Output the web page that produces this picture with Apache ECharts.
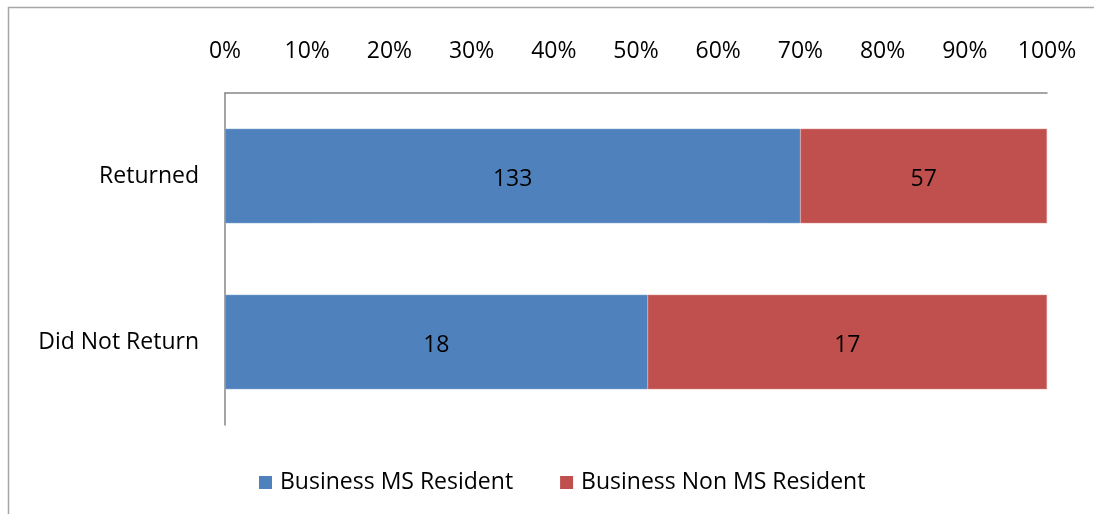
<!DOCTYPE html>
<html>
<head>
<meta charset="utf-8">
<script src="https://cdn.jsdelivr.net/npm/echarts@6/dist/echarts.min.js"></script>
<style>
  html, body { margin: 0; padding: 0; background: #fff; }
  #main { width: 1094px; height: 514px; }
</style>
</head>
<body>
<div id="main"></div>
<script>
// 数据
var categories = ['Returned', 'Did Not Return'];
var msResident = [133, 18];
var nonMsResident = [57, 17];
var seriesNames = ['Business MS Resident', 'Business Non MS Resident'];
var tickLabels = ['0%', '10%', '20%', '30%', '40%', '50%', '60%', '70%', '80%', '90%', '100%'];

var font = 'Open Sans';
var fs = 23;

// 100% 堆叠：换算成百分比，标签仍显示原始数量
function toPct(arr) {
  return arr.map(function(v, i) {
    var total = msResident[i] + nonMsResident[i];
    return { value: v / total * 100, raw: v };
  });
}

var chart = echarts.init(document.getElementById('main'));
var labelStyle = {
  show: true,
  position: 'inside',
  offset: [0, 3],
  color: '#000',
  fontFamily: font,
  fontSize: fs,
  formatter: function(p) { return p.data.raw; }
};

var option = {
  animation: false,
  graphic: [{
    type: 'rect',
    shape: { x: 8.5, y: 7.5, width: 1200, height: 600 },
    style: { fill: 'none', stroke: '#a6a6a6', lineWidth: 1.5 },
    silent: true
  }],
  grid: { left: 225, right: 47, top: 93, bottom: 89 },
  legend: {
    left: 254,
    top: 466,
    itemWidth: 13,
    itemHeight: 13,
    itemGap: 47,
    icon: 'rect',
    itemStyle: { borderWidth: 0 },
    textStyle: { fontFamily: font, fontSize: fs, color: '#000', padding: [0, 0, 0, 3] },
    data: seriesNames
  },
  xAxis: {
    type: 'value',
    position: 'top',
    min: 0,
    max: 100,
    interval: 10,
    axisLine: { show: true, lineStyle: { color: '#868686', width: 1.5 } },
    axisTick: { show: false },
    splitLine: { show: false },
    axisLabel: {
      margin: 30,
      color: '#000',
      fontFamily: font,
      fontSize: fs,
      formatter: function(v) { return tickLabels[Math.round(v / 10)]; }
    }
  },
  yAxis: {
    type: 'category',
    inverse: true,
    data: categories,
    axisLine: { show: true, lineStyle: { color: '#868686', width: 1.5 } },
    axisTick: { show: false },
    axisLabel: { margin: 26, color: '#000', fontFamily: font, fontSize: fs, padding: [6, 0, 0, 0] }
  },
  series: [{
    name: seriesNames[0],
    type: 'bar',
    stack: 'total',
    barWidth: '57%',
    itemStyle: { color: '#4f81bd', borderColor: '#8fb0d8', borderWidth: 0.5 },
    label: labelStyle,
    data: toPct(msResident)
  }, {
    name: seriesNames[1],
    type: 'bar',
    stack: 'total',
    barWidth: '57%',
    itemStyle: { color: '#c0504d', borderColor: '#dc9694', borderWidth: 0.5 },
    label: labelStyle,
    data: toPct(nonMsResident)
  }]
};
chart.setOption(option);
</script>
</body>
</html>
